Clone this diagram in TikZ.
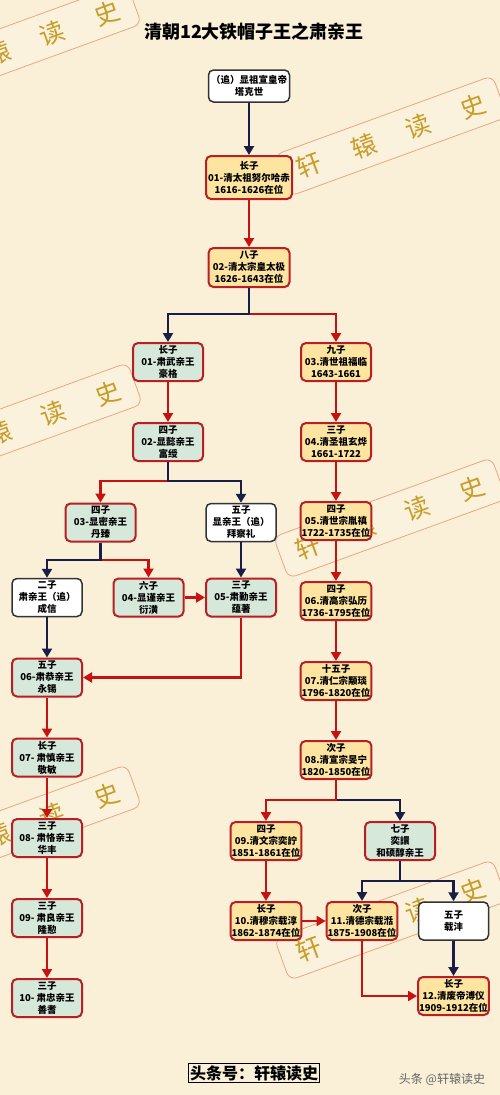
\documentclass[tikz,border=0pt]{standalone}
\usepackage{fontspec}
\setmainfont{Noto Sans CJK SC}
\usetikzlibrary{arrows.meta}
\definecolor{bg}{RGB}{249,240,215}
\definecolor{brdred}{RGB}{185,30,35}
\definecolor{lnred}{RGB}{200,18,18}
\definecolor{navy}{RGB}{25,30,70}
\definecolor{empfill}{RGB}{253,228,160}
\definecolor{prnfill}{RGB}{214,232,218}
\definecolor{wmtext}{RGB}{200,156,40}
\definecolor{wmborder}{RGB}{235,165,130}
\definecolor{wmfill}{RGB}{251,244,226}
\tikzset{
  base/.style={rectangle, rounded corners=5pt, line width=2pt, align=center, inner sep=1pt,
    minimum width=70pt, minimum height=38pt, font=\bfseries\fontsize{9.5}{12}\selectfont, text=black},
  emp/.style={base, draw=brdred, fill=empfill},
  prn/.style={base, draw=brdred, fill=prnfill},
  wht/.style={base, draw=black!80, fill=white, line width=1.5pt},
  tip/.style={-{Triangle[length=9pt,width=10pt]}},
  navyl/.style={draw=navy, line width=2.5pt},
  redl/.style={draw=lnred, line width=2.5pt},
  navya/.style={navyl, tip},
  reda/.style={redl, tip},
  wmbox/.style={draw=wmborder, fill=wmfill, fill opacity=0.6, line width=0.8pt, rounded corners=8pt},
  wmchar/.style={text=wmtext, font=\fontsize{25}{25}\selectfont, transform shape},
  wm/.pic={
    \draw[wmbox] (-116,-22) rectangle (116,22);
    \node[wmchar] (wa) at (-87,0) {轩};
    \node[wmchar] (wb) at (-29,0) {辕};
    \node[wmchar] (wc) at (29,0) {读};
    \node[wmchar] (wd) at (87,0) {史};
  }
}
\begin{document}
\begin{tikzpicture}[x=1pt,y=-1pt]
\fill[bg] (0,0) rectangle (500,1095);
\useasboundingbox (0,0) rectangle (500,1095);

% watermarks
\foreach \cx/\cy in {25/43, 391/136, 26/423, 390/518, 25/825, 391/920}{
  \pic[shift={(\cx,\cy)}, rotate=20] {wm};
}

% title
\node[font=\bfseries\fontsize{18}{20}\selectfont] (title) at (254,32) {清朝12大铁帽子王之肃亲王};

% nodes
\node[wht, minimum width=81pt, minimum height=32pt] (top) at (249,86) {（追）显祖宣皇帝\\塔克世};
\node[emp, minimum width=86pt, minimum height=43pt] (n01) at (249,177.5) {长子\\01-清太祖努尔哈赤\\1616-1626在位};
\node[emp, minimum width=81pt, minimum height=39pt] (n02) at (249,267.5) {八子\\02-清太宗皇太极\\1626-1643在位};
\node[prn] (haoge) at (168,362) {长子\\01-肃武亲王\\豪格};
\node[emp] (fulin) at (336,362) {九子\\03.清世祖福临\\1643-1661};
\node[prn] (fushou) at (168,442) {四子\\02-显懿亲王\\富绶};
\node[emp] (xuanye) at (336,442) {三子\\04.清圣祖玄烨\\1661-1722};
\node[prn] (danzhen) at (100.5,522.5) {四子\\03-显密亲王\\丹臻};
\node[wht] (baichali) at (241,522.5) {五子\\显亲王（追）\\拜察礼};
\node[emp] (yinzhen) at (336,521) {四子\\05.清世宗胤禛\\1722-1735在位};
\node[wht] (chengxin) at (47,597.5) {二子\\肃亲王（追）\\成信};
\node[prn] (yanhuang) at (148.5,597.5) {六子\\04-显谨亲王\\衍潢};
\node[prn] (yunzhu) at (241,597.5) {三子\\05-肃勤亲王\\蕴著};
\node[emp] (hongli) at (336,601) {四子\\06.清高宗弘历\\1736-1795在位};
\node[prn] (yongxi) at (47,677.5) {五子\\06-肃恭亲王\\永锡};
\node[emp] (yongyan) at (336,681) {十五子\\07.清仁宗颙琰\\1796-1820在位};
\node[prn] (jingmin) at (47,757.5) {长子\\07- 肃慎亲王\\敬敏};
\node[emp] (minning) at (336,760) {次子\\08.清宣宗旻宁\\1820-1850在位};
\node[prn] (huafeng) at (47,838) {三子\\08- 肃恪亲王\\华丰};
\node[emp] (yizhu) at (266,841) {四子\\09.清文宗奕詝\\1851-1861在位};
\node[prn] (yixuan) at (400,841) {七子\\奕譞\\和硕醇亲王};
\node[prn] (longqin) at (47,918) {三子\\09- 肃良亲王\\隆懃};
\node[emp] (zaichun) at (266,921) {长子\\10.清穆宗载淳\\1862-1874在位};
\node[emp] (zaitian) at (362,921) {次子\\11.清德宗载湉\\1875-1908在位};
\node[wht] (zaifeng) at (453.5,921) {五子\\载沣};
\node[prn] (shanqi) at (47,998) {三子\\10- 肃忠亲王\\善耆};
\node[emp] (puyi) at (453.5,996) {长子\\12.清废帝溥仪\\1909-1912在位};

% junctions
\coordinate (j1) at (249,314);
\coordinate (j2) at (168,481);
\coordinate (j3) at (100.5,560);
\coordinate (j4) at (336,800);
\coordinate (j5) at (400,881);

% connectors
\draw[navya] (top) -- (n01);
\draw[reda] (n01) -- (n02);
\draw[reda] (j1) -| (fulin.north);
\draw[navya] (n02.south) -- (j1) -| (haoge.north);
\draw[reda] (haoge) -- (fushou);
\draw[reda] (fulin) -- (xuanye);
\draw[reda] (j2) -| (danzhen.north);
\draw[navya] (fushou.south) -- (j2) -| (baichali.north);
\draw[reda] (xuanye) -- (yinzhen);
\draw[reda] (j3) -| (yanhuang.north);
\draw[navya] (danzhen.south) -- (j3) -| (chengxin.north);
\draw[reda] (yanhuang) -- (yunzhu);
\draw[navya] (baichali) -- (yunzhu);
\draw[navya] (chengxin) -- (yongxi);
\draw[reda] (yunzhu.south) |- (yongxi.east);
\draw[reda] (yinzhen) -- (hongli);
\draw[reda] (hongli) -- (yongyan);
\draw[reda] (yongyan) -- (minning);
\draw[reda] (yongxi) -- (jingmin);
\draw[reda] (jingmin) -- (huafeng);
\draw[reda] (huafeng) -- (longqin);
\draw[reda] (longqin) -- (shanqi);
\draw[navya] (j4) -| (yixuan.north);
\draw[reda] (minning.south) -- (j4) -| (yizhu.north);
\draw[reda] (yizhu) -- (zaichun);
\draw[reda] (zaichun) -- (zaitian);
\draw[navya] (j5) -| (zaitian.north);
\draw[navya] (yixuan.south) -- (j5) -| (zaifeng.north);
\draw[navya] (zaifeng) -- (puyi);
\draw[reda] (zaitian.south) |- (puyi.west);

% footer
\node[draw=black, line width=0.8pt, inner sep=1.5pt, font=\bfseries\fontsize{16}{18}\selectfont] (foot) at (254,1073) {头条号：轩辕读史};
\node[text=black!60, font=\fontsize{12}{14}\selectfont] (mark) at (442,1079) {头条 @轩辕读史};
\end{tikzpicture}
\end{document}
